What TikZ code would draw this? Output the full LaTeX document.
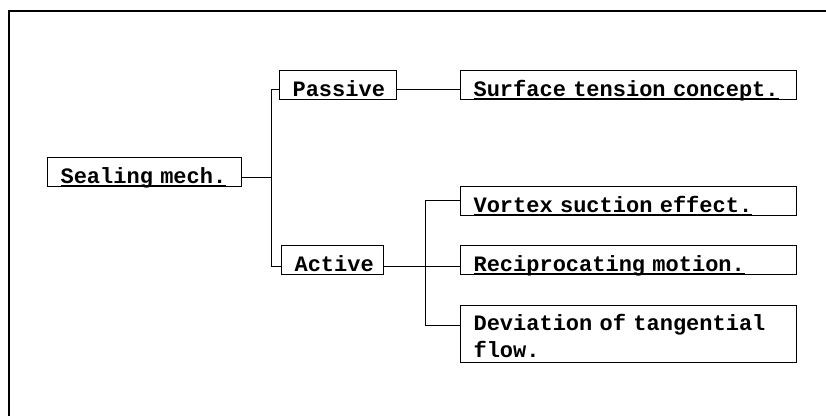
\documentclass[tikz,border=0pt]{standalone}
\usepackage{fontspec}
\setmonofont{Liberation Mono}
\usetikzlibrary{positioning}

\newsavebox{\ulsave}
\newcommand{\ulbox}[1]{\sbox{\ulsave}{#1}\rlap{\rule[-2.5pt]{\wd\ulsave}{1pt}}\usebox{\ulsave}}
\newcommand{\boxfont}{%
    \fontsize{22}{27}\selectfont\ttfamily\bfseries
    \fontdimen2\font=0.6em\relax
    \fontdimen3\font=0pt\relax
    \fontdimen4\font=0pt\relax}

\begin{document}
\begin{tikzpicture}[
    x=1pt, y=-1pt,
    font=\boxfont,
    tree_box/.style={
        draw,
        line width=1.1pt,
        anchor=north west,
        inner xsep=13pt,
        inner ysep=0pt,
        text height=26pt,
        text depth=3pt,
        align=left
    },
    side_box/.style={
        tree_box,
        text width=310pt
    },
    link/.style={
        line width=0.9pt
    },
    frame/.style={
        line width=1.3pt
    }
]
    \useasboundingbox (0,0) rectangle (826,416);

    % Page frame (top and left edge only)
    \draw[frame] (826,11) -- (9,11) -- (9,416);

    % Root and first level
    \node[tree_box, text width=168pt] (seal) at (47,157) {\ulbox{Sealing mech.}};
    \node[tree_box, text width=91pt] (passive) at (279,70) {Passive};
    \node[tree_box, text width=76pt] (active) at (281,245) {Active};

    % Second level
    \node[side_box] (surface) at (460,70) {\ulbox{Surface tension concept.}};
    \node[side_box] (vortex) at (460,186) {\ulbox{Vortex suction effect.}};
    \node[side_box] (recip) at (460,245) {\ulbox{Reciprocating motion.}};
    \node[side_box, text height=25pt, text depth=32pt] (dev) at (460,305)
        {Deviation of tangential\\flow.};

    % Connectors
    \draw[link] ([yshift=6pt]seal.base east) -- ++(29,0) coordinate (fork_a);
    \draw[link] ([yshift=7pt]passive.base west) -| (fork_a) |- ([yshift=5pt]active.base west);
    \draw[link] ([yshift=7pt]passive.base east) -- ([yshift=7pt]surface.base west);
    \draw[link] ([yshift=5pt]active.base east) -- ([yshift=5pt]recip.base west);
    \draw[link] ([yshift=12pt]vortex.base west) -- ++(-35,0) coordinate (fork_b)
        |- ([yshift=-20pt]dev.north west);

\end{tikzpicture}
\end{document}
